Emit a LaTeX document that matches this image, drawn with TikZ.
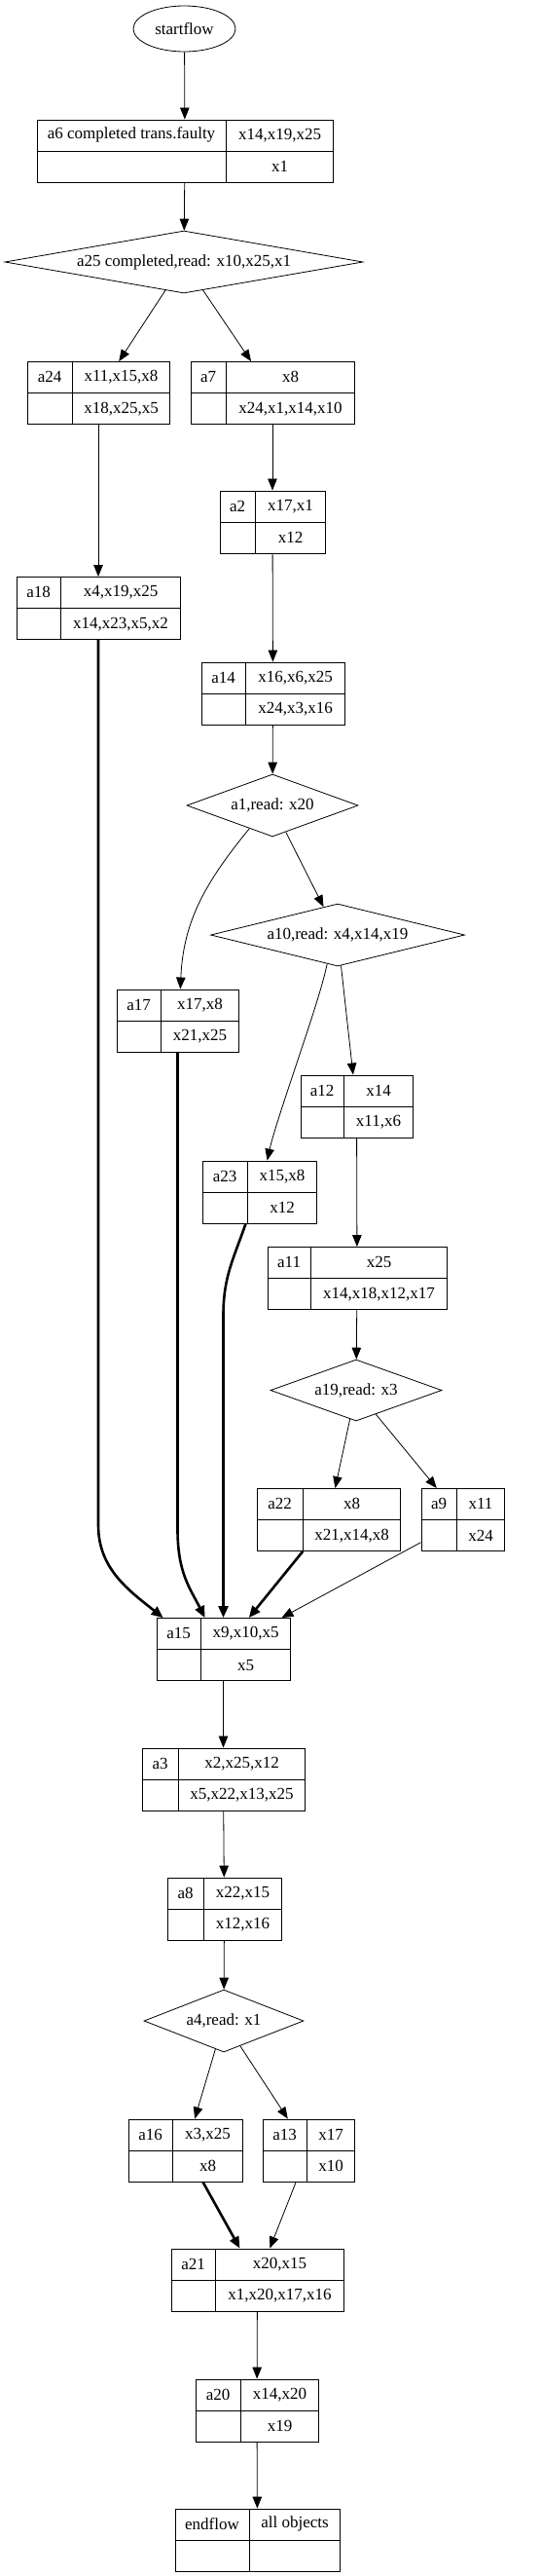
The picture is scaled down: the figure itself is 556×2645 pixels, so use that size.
\documentclass[tikz,border=0pt]{standalone}
\usepackage{fontspec}
\setmainfont{Liberation Serif}
\usepackage{tikz}
\usetikzlibrary{shapes.geometric, arrows.meta, calc}
\tikzset{
	startstop/.style={ellipse, draw=black, line width=0.8pt, inner sep=0pt},
	record/.style   ={rectangle, draw=black, line width=0.9pt, inner sep=0pt, minimum height=64},
	cellline/.style ={line width=0.9pt},
	celltext/.style ={inner sep=0pt, anchor=center},
	decision/.style ={diamond, draw=black, line width=0.8pt, inner sep=0pt, minimum height=64},
	flowarrow/.style={-{Triangle[length=12pt, width=9.5pt]}, line width=0.8pt},
	boldarrow/.style={-{Triangle[length=12pt, width=10pt]}, line width=2.6pt},
}
% record with two columns and two rows: name, position, width, left width, name text, top text, bottom text
\newcommand{\recnode}[7]{%
	\node[record, minimum width=#3] (#1) at #2 {};
	\draw[cellline] (#1.west) -- (#1.east)
		([xshift=#4]#1.north west) -- ([xshift=#4]#1.south west);
	\node[celltext] (#1-n) at ($(#1.north west)!.5!([xshift=#4]#1.west)$) {#5};
	\node[celltext] (#1-t) at ($([xshift=#4]#1.north west)!.5!(#1.east)$) {#6};
	\node[celltext] (#1-b) at ($([xshift=#4]#1.west)!.5!(#1.south east)$) {#7};
}

\begin{document}
\begin{tikzpicture}[font=\fontsize{17}{20}\selectfont, x=1pt, y=-1pt]
	\useasboundingbox (0,0) rectangle (556,2645);
	\node[startstop, minimum width=105, minimum height=47] (startflow) at (189.5,29.5) {startflow};
	\recnode{a6}{(190,155)}{304}{195}{a6 completed trans.faulty}{x14,x19,x25}{x1}
	\node[decision, minimum width=368, aspect=5.75] (a25) at (189,269) {a25 completed,read: x10,x25,x1};
	\recnode{a24}{(101,403.5)}{146}{47}{a24}{x11,x15,x8}{x18,x25,x5}
	\recnode{a7}{(280,403.5)}{168}{37}{a7}{x8}{x24,x1,x14,x10}
	\recnode{a2}{(280,536)}{108}{37}{a2}{x17,x1}{x12}
	\recnode{a18}{(101,624.5)}{168}{46}{a18}{x4,x19,x25}{x14,x23,x5,x2}
	\recnode{a14}{(280.5,712)}{147}{46}{a14}{x16,x6,x25}{x24,x3,x16}
	\node[decision, minimum width=176, aspect=2.75] (a1) at (280,827) {a1,read: x20};
	\node[decision, minimum width=261, aspect=4.08] (a10) at (347,960) {a10,read: x4,x14,x19};
	\recnode{a17}{(182.5,1048)}{125}{46}{a17}{x17,x8}{x21,x25}
	\recnode{a12}{(366.5,1136)}{115}{45}{a12}{x14}{x11,x6}
	\recnode{a23}{(266.5,1224)}{117}{47}{a23}{x15,x8}{x12}
	\recnode{a11}{(367,1312.5)}{184}{45}{a11}{x25}{x14,x18,x12,x17}
	\node[decision, minimum width=176, minimum height=63, aspect=2.79] (a19) at (366,1427.5) {a19,read: x3};
	\recnode{a22}{(337.5,1560.5)}{147}{48}{a22}{x8}{x21,x14,x8}
	\recnode{a9}{(475.5,1560.5)}{85}{37}{a9}{x11}{x24}
	\recnode{a15}{(229.5,1693.5)}{137}{46}{a15}{x9,x10,x5}{x5}
	\recnode{a3}{(229.5,1827)}{167}{38}{a3}{x2,x25,x12}{x5,x22,x13,x25}
	\recnode{a8}{(230.5,1960)}{117}{38}{a8}{x22,x15}{x12,x16}
	\node[decision, minimum width=164, aspect=2.56] (a4) at (230,2075) {a4,read: x1};
	\recnode{a16}{(190.5,2208)}{117}{46}{a16}{x3,x25}{x8}
	\recnode{a13}{(317,2208)}{94}{46}{a13}{x17}{x10}
	\recnode{a21}{(264.5,2341)}{177}{46}{a21}{x20,x15}{x1,x20,x17,x16}
	\recnode{a20}{(264,2475)}{126}{47}{a20}{x14,x20}{x19}
	\recnode{endflow}{(264.5,2608)}{169}{77}{endflow}{all objects}{}
	% edges
	\draw[flowarrow] (startflow) -- (a6);
	\draw[flowarrow] (a6) -- (a25);
	\draw[flowarrow] (a25) -- (a24);
	\draw[flowarrow] (a25) -- (a7);
	\draw[flowarrow] (a24) -- (a18);
	\draw[flowarrow] (a7) -- (a2);
	\draw[flowarrow] (a2) -- (a14);
	\draw[flowarrow] (a14) -- (a1);
	\draw[flowarrow] (a1.-135) .. controls +(-45,55) and +(3,-70) .. (a17.85);
	\draw[flowarrow] (a1) -- (a10);
	\draw[flowarrow] (a10) -- (a12);
	\draw[flowarrow] (a10.-110) .. controls +(-8,40) and +(10,-45) .. (a23.76);
	\draw[flowarrow] (a12) -- (a11);
	\draw[flowarrow] (a11) -- (a19);
	\draw[flowarrow] (a19) -- (a22);
	\draw[flowarrow] (a19) -- (a9);
	\draw[flowarrow] (a9) -- (a15);
	\draw[flowarrow] (a15) -- (a3);
	\draw[flowarrow] (a3) -- (a8);
	\draw[flowarrow] (a8) -- (a4);
	\draw[flowarrow] (a4) -- (a16);
	\draw[flowarrow] (a4) -- (a13);
	\draw[flowarrow] (a13) -- (a21);
	\draw[flowarrow] (a21) -- (a20);
	\draw[flowarrow] (a20) -- (endflow);
	% bold edges
	\draw[boldarrow] (a18.south) -- ++(0,909) .. controls +(0,45) and +(-35,-28) .. ([xshift=7]a15.north west);
	\draw[boldarrow] (a17.south) -- ++(0,490) .. controls +(0,45) and +(-15,-30) .. ([xshift=50]a15.north west);
	\draw[boldarrow] ([xshift=-14]a23.south) .. controls +(-12,35) and +(0,-40) .. ++(-23,94) -- (a15.north);
	\draw[boldarrow] (a22) -- (a15);
	\draw[boldarrow] (a16) -- (a21);
\end{tikzpicture}
\end{document}
